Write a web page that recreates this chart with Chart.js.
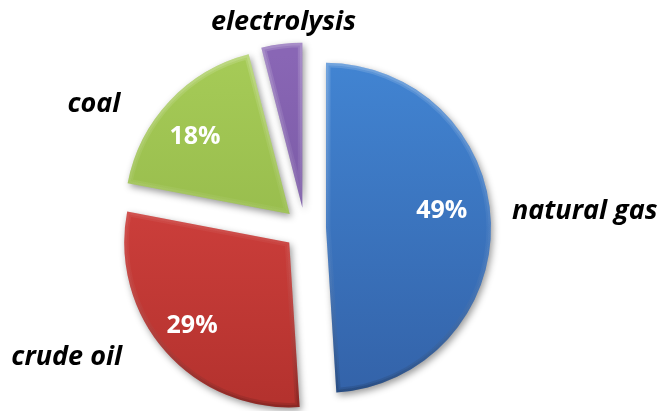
<!DOCTYPE html>
<html>
<head>
<meta charset="utf-8">
<script src="https://cdn.jsdelivr.net/npm/chart.js@4/dist/chart.umd.min.js"></script>
<style>
  html, body { margin: 0; padding: 0; background: #ffffff; }
  #wrap { width: 664px; height: 411px; }
</style>
</head>
<body>
<div id="wrap"><canvas id="chart" width="664" height="411"></canvas></div>
<script>
// Hydrogen production by source, share of total (%)
const categories = ['natural gas', 'crude oil', 'coal', 'electrolysis'];
const shares = [49, 29, 18, 4];
const showShare = [true, true, true, false];

// Slice colours: lighter top tone, darker bottom tone
const topColors = ['#4285d3', '#de4845', '#a6cb57', '#8966b5'];
const bottomColors = ['#3362a8', '#b4322e', '#8aae43', '#6a4e94'];

// Placement tweaks for the text labels (pixels)
const shareNudge = [[-3, -13], [-8, 5], [-8, 4], [0, 0]];
const nameNudge = [[3, -11], [-30, -6], [-36, 15], [4, -4]];

const EXPLODE = 21;
const NAME_FONT = 'italic bold 27px "Open Sans", "Liberation Sans", sans-serif';
const SHARE_FONT = 'bold 25px "Open Sans", "Liberation Sans", sans-serif';

function sliceFill(ctx) {
  const chart = ctx.chart;
  const area = chart.chartArea;
  const i = ctx.dataIndex;
  if (!area || i === undefined) return topColors[i || 0];
  const g = chart.ctx.createLinearGradient(0, 55, 0, 400);
  g.addColorStop(0, topColors[i]);
  g.addColorStop(1, bottomColors[i]);
  return g;
}

// Pushes every slice out from the centre along its mid angle
const explodePlugin = {
  id: 'explode',
  afterUpdate(chart) {
    chart.getDatasetMeta(0).data.forEach(arc => {
      const mid = (arc.startAngle + arc.endAngle) / 2;
      arc.x += Math.cos(mid) * EXPLODE;
      arc.y += Math.sin(mid) * EXPLODE;
    });
  }
};

// Soft drop shadow under the slices
const shadowPlugin = {
  id: 'sliceShadow',
  beforeDatasetsDraw(chart) {
    const c = chart.ctx;
    c.save();
    c.shadowColor = 'rgba(0,0,0,0.40)';
    c.shadowBlur = 7;
    c.shadowOffsetX = 2;
    c.shadowOffsetY = 3;
  },
  afterDatasetsDraw(chart) {
    chart.ctx.restore();
  }
};

function slicePath(c, arc) {
  c.beginPath();
  c.moveTo(arc.x, arc.y);
  c.arc(arc.x, arc.y, arc.outerRadius, arc.startAngle, arc.endAngle);
  c.closePath();
}

// Bevelled rim: light on upper edges, darker below
const bevelPlugin = {
  id: 'bevel',
  afterDatasetsDraw(chart) {
    const c = chart.ctx;
    chart.getDatasetMeta(0).data.forEach(arc => {
      c.save();
      slicePath(c, arc);
      c.clip();
      const g = c.createLinearGradient(0, arc.y - arc.outerRadius, 0, arc.y + arc.outerRadius);
      g.addColorStop(0, 'rgba(255,255,255,0.14)');
      g.addColorStop(0.5, 'rgba(255,255,255,0.04)');
      g.addColorStop(1, 'rgba(0,0,0,0.12)');
      c.strokeStyle = g;
      c.lineJoin = 'round';
      [9, 5].forEach(w => {
        slicePath(c, arc);
        c.lineWidth = w;
        c.stroke();
      });
      c.restore();
    });
  }
};

// Share values inside the slices and category names outside
const labelPlugin = {
  id: 'sliceLabels',
  afterDraw(chart) {
    const c = chart.ctx;
    const arcs = chart.getDatasetMeta(0).data;
    c.save();
    arcs.forEach((arc, i) => {
      const mid = (arc.startAngle + arc.endAngle) / 2;
      const cs = Math.cos(mid), sn = Math.sin(mid);
      const R = arc.outerRadius;

      if (showShare[i]) {
        c.font = SHARE_FONT;
        c.fillStyle = '#ffffff';
        c.textAlign = 'center';
        c.textBaseline = 'middle';
        c.fillText(shares[i] + '%',
          arc.x + cs * R * 0.72 + shareNudge[i][0],
          arc.y + sn * R * 0.72 + shareNudge[i][1]);
      }

      const ax = arc.x + cs * (R + 18) + nameNudge[i][0];
      const ay = arc.y + sn * (R + 18) + nameNudge[i][1];
      c.font = NAME_FONT;
      c.fillStyle = '#000000';
      c.textBaseline = 'middle';
      c.textAlign = Math.abs(cs) < 0.3 ? 'center' : (cs > 0 ? 'left' : 'right');
      c.fillText(categories[i], ax, ay);
    });
    c.restore();
  }
};

new Chart(document.getElementById('chart'), {
  type: 'pie',
  data: {
    labels: categories,
    datasets: [{
      data: shares,
      backgroundColor: sliceFill,
      borderColor: 'rgba(0,0,0,0)',
      borderWidth: 0,
      radius: 165
    }]
  },
  options: {
    responsive: false,
    devicePixelRatio: 1,
    animation: false,
    radius: 165,
    layout: { padding: { left: 0, right: 54, top: 46, bottom: 0 } },
    plugins: {
      legend: { display: false },
      tooltip: { enabled: false }
    },
    events: []
  },
  plugins: [explodePlugin, shadowPlugin, bevelPlugin, labelPlugin]
});
</script>
</body>
</html>
